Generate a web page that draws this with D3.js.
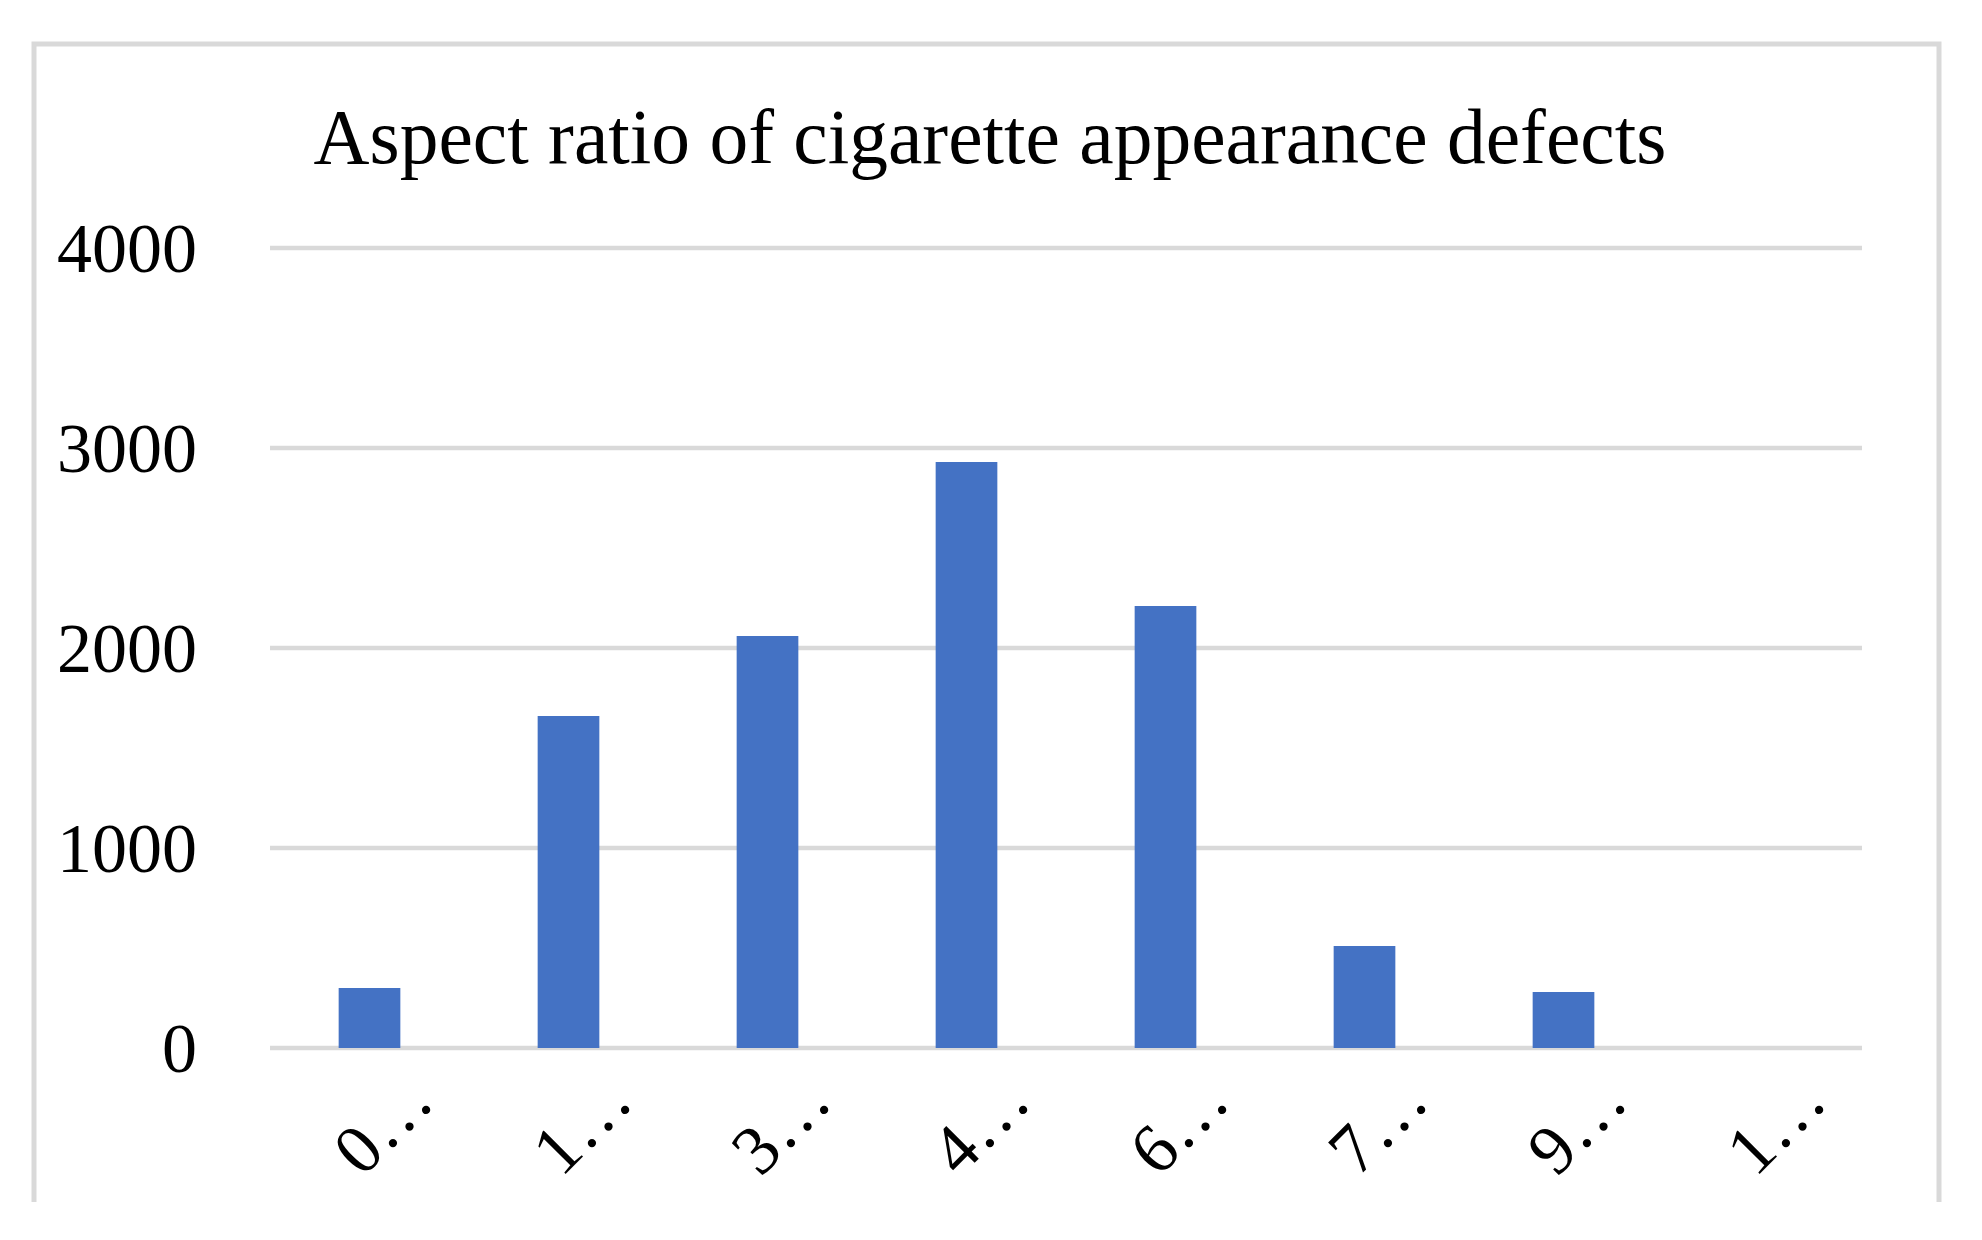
<!DOCTYPE html>
<html>
<head>
<meta charset="utf-8">
<script src="https://cdn.jsdelivr.net/npm/d3@7"></script>
<style>
html,body{margin:0;padding:0;background:#fff;}
svg{display:block;}
</style>
</head>
<body>
<svg id="chart" width="1982" height="1240"></svg>
<script>
const categories = ["0…", "1…", "3…", "4…", "6…", "7…", "9…", "1…"];
const counts = [300, 1660, 2060, 2930, 2210, 510, 280, 0];
const yTicks = [0, 1000, 2000, 3000, 4000];
const titleText = "Aspect ratio of cigarette appearance defects";

const FONT = "'Liberation Serif', 'Times New Roman', serif";
const svg = d3.select("#chart");

// frame (bottom edge is cropped off in the reference)
svg.append("path")
  .attr("d", d3.line()([[34, 1202], [34, 44], [1939, 44], [1939, 1202]]))
  .attr("fill", "none").attr("stroke", "#d9d9d9").attr("stroke-width", 5);

const x = d3.scaleBand().domain(d3.range(categories.length)).range([270, 1862]).paddingInner(0.69).paddingOuter(0.345);
const y = d3.scaleLinear().domain([0, 4000]).range([1048, 248]);

// gridlines
svg.append("g").selectAll("line").data(yTicks).join("line")
  .attr("x1", 270).attr("x2", 1862)
  .attr("y1", d => y(d)).attr("y2", d => y(d))
  .attr("stroke", "#d9d9d9").attr("stroke-width", 4.5);

// y tick labels
const yAxis = d3.axisLeft(y).tickValues(yTicks).tickSize(0).tickPadding(0).tickFormat(d3.format("d"));
const gy = svg.append("g").attr("transform", "translate(197,0)").call(yAxis);
gy.select(".domain").remove();
gy.selectAll("text").attr("font-family", FONT).attr("font-size", 70).attr("fill", "#000").attr("dy", "0.33em");

// bars
svg.append("g").selectAll("rect").data(counts).join("rect")
  .attr("x", (d, i) => x(i)).attr("width", x.bandwidth())
  .attr("y", d => y(d)).attr("height", d => y(0) - y(d))
  .attr("fill", "#4472C4");

// x labels, rotated
const xc = d3.scaleBand().domain(d3.range(categories.length)).range([270, 1862]);
svg.append("g").selectAll("text").data(categories).join("text")
  .attr("transform", (d, i) => `translate(${xc(i) + xc.bandwidth() / 2 + 67},1104) rotate(-45)`)
  .attr("text-anchor", "end")
  .attr("font-family", FONT).attr("font-size", 70).attr("fill", "#000")
  .text(d => d);

// title
const t = svg.append("text")
  .attr("x", 990).attr("y", 163).attr("text-anchor", "middle")
  .attr("font-family", FONT).attr("font-size", 72).attr("fill", "#000")
  .text(titleText);
const w = t.node().getComputedTextLength();
const target = 1353;
t.attr("font-size", 72 * target / w);
</script>
</body>
</html>
